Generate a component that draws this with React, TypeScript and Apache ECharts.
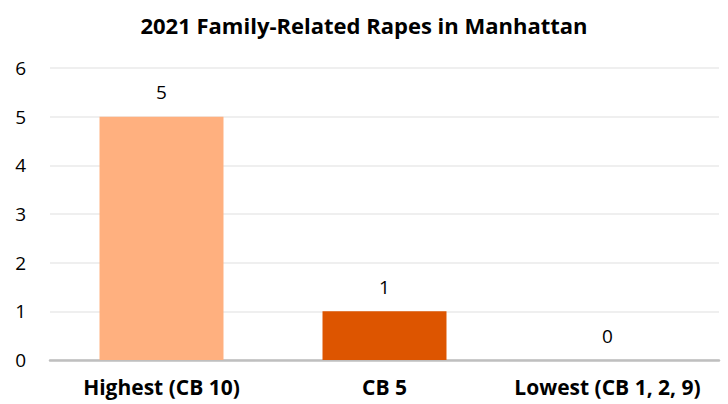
import React, { useEffect, useRef } from "react";
import * as echarts from "echarts";

const title = "2021 Family-Related Rapes in Manhattan";
const categories = ["Highest (CB 10)", "CB 5", "Lowest (CB 1, 2, 9)"];
const values = [5, 1, 0];
const barColors = ["#FFB07F", "#DD5500", "#BFBFBF"];

export default function App() {
  const ref = useRef<HTMLDivElement>(null);
  useEffect(() => {
    const chart = echarts.init(ref.current!, null, { renderer: "svg" });
    const font = "'Open Sans', 'Liberation Sans', sans-serif";
    chart.setOption({
      animation: false,
      title: {
        text: title,
        left: "center",
        top: 9,
        textStyle: { fontFamily: font, fontSize: 22, fontWeight: "bold", color: "#000" },
      },
      grid: { left: 50, right: 9, top: 68, bottom: 44 },
      xAxis: {
        type: "category",
        data: categories,
        axisLine: { lineStyle: { color: "#BFBFBF", width: 2.5 } },
        axisTick: { show: false },
        axisLabel: {
          interval: 0,
          hideOverlap: false,
          fontFamily: font,
          fontSize: 21,
          fontWeight: "bold",
          color: "#000",
          margin: 16,
        },
      },
      yAxis: {
        type: "value",
        min: 0,
        max: 6,
        interval: 1,
        axisLine: { show: false },
        axisTick: { show: false },
        splitLine: { lineStyle: { color: "#EFEFEF", width: 2 } },
        axisLabel: { fontFamily: font, fontSize: 19, color: "#000", margin: 24 },
      },
      series: [
        {
          type: "bar",
          data: values.map((v, i) => ({ value: v, itemStyle: { color: barColors[i] } })),
          barWidth: "55.6%",
          label: {
            show: true,
            position: "top",
            distance: 15,
            fontFamily: font,
            fontSize: 19,
            color: "#000",
          },
        },
      ],
    });
    return () => chart.dispose();
  }, []);
  return <div ref={ref} style={{ width: 728, height: 404, position: "absolute", left: 0, top: 0 }} />;
}
